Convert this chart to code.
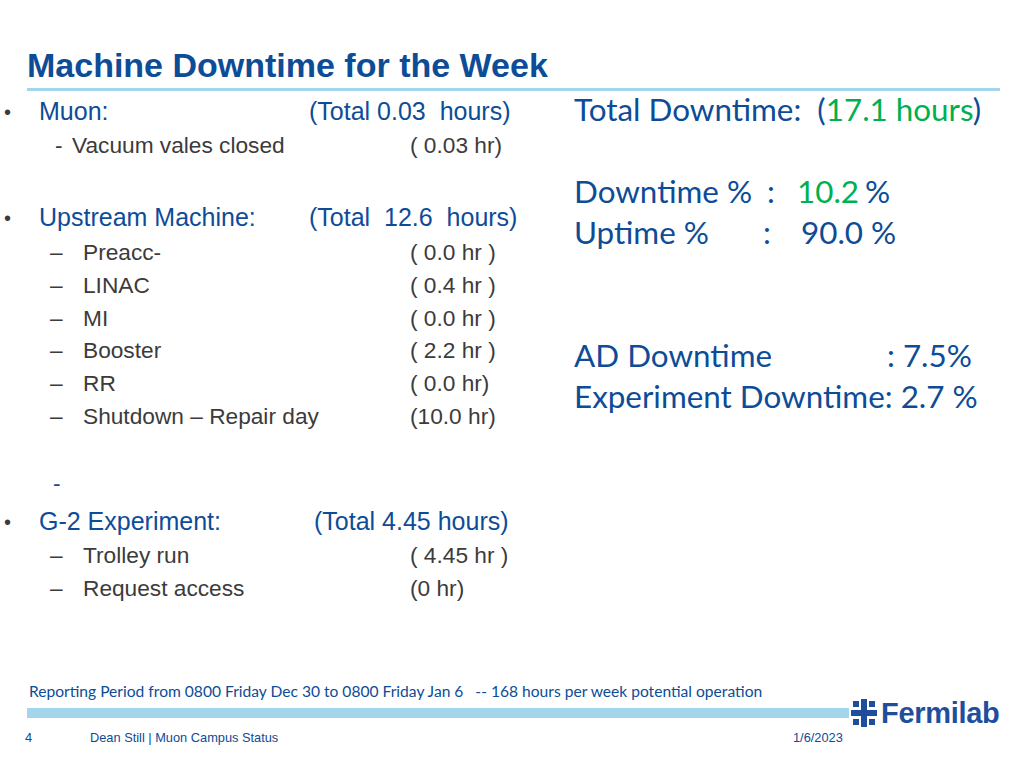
<!DOCTYPE html>
<html>
<head>
<meta charset="utf-8">
<script src="https://cdn.jsdelivr.net/npm/chart.js@4.4.0/dist/chart.umd.min.js"></script>
<style>
  html, body { margin: 0; padding: 0; background: #fff; }
  body { width: 1024px; height: 768px; position: relative; overflow: hidden; }
  .t { position: absolute; white-space: pre; line-height: 1; }
  .arial { font-family: "Liberation Sans", Arial, sans-serif; }
  .lato { font-family: Lato, "Noto Sans", sans-serif; }
  .blue { color: #0d4c97; }
  .gray { color: #3b3b3b; }
  .green { color: #00b050; }
  .rule { position: absolute; background: #a3d6ea; }
</style>
</head>
<body>
<script>
// ---- data ----
const title = "Machine Downtime for the Week";
const groups = ["Muon:", "Upstream Machine:", "G-2 Experiment:"];
const groupTotals = ["(Total 0.03  hours)", "(Total  12.6  hours)", "(Total 4.45 hours)"];
const muonItems = ["Vacuum vales closed"];
const muonHours = ["( 0.03 hr)"];
const upstreamItems = ["Preacc-", "LINAC", "MI", "Booster", "RR", "Shutdown \u2013 Repair day"];
const upstreamHours = ["( 0.0 hr )", "( 0.4 hr )", "( 0.0 hr )", "( 2.2 hr )", "( 0.0 hr)", "(10.0 hr)"];
const g2Items = ["Trolley run", "Request access"];
const g2Hours = ["( 4.45 hr )", "(0 hr)"];
const totalDowntimeHours = "17.1 hours";
const downtimePct = "10.2";
const uptimePct = "90.0 %";
const adDowntime = ": 7.5%";
const experimentDowntime = "2.7 %";
const reportingText = "Reporting Period from 0800 Friday Dec 30 to 0800 Friday Jan 6   -- 168 hours per week potential operation";
const footerPage = "4";
const footerAuthor = "Dean Still | Muon Campus Status";
const footerDate = "1/6/2023";

// ---- layout ----
function put(text, x, yc, size, cls, extra) {
  const d = document.createElement("div");
  d.className = "t " + cls;
  d.textContent = text;
  d.style.left = x + "px";
  d.style.top = (yc - size / 2) + "px";
  d.style.fontSize = size + "px";
  if (extra) Object.assign(d.style, extra);
  document.body.appendChild(d);
  return d;
}
function rule(x, y, w, h) {
  const d = document.createElement("div");
  d.className = "rule";
  Object.assign(d.style, { left: x + "px", top: y + "px", width: w + "px", height: h + "px" });
  document.body.appendChild(d);
}

put(title, 27, 65, 34, "arial blue", { fontWeight: "bold" });
rule(27, 88, 973, 3);

const MAIN = 25, SUB = 22.7;
// Muon
put("\u2022", 4, 112, 20, "arial gray");
put(groups[0], 39, 111, MAIN, "arial blue");
put(groupTotals[0], 309, 111, MAIN, "arial blue");
put("-", 55, 145, SUB, "arial gray");
put(muonItems[0], 72, 145, SUB, "arial gray");
put(muonHours[0], 410, 145, SUB, "arial gray");

// Upstream
put("\u2022", 4, 218, 20, "arial gray");
put(groups[1], 39, 217, MAIN, "arial blue");
put(groupTotals[1], 309, 217, MAIN, "arial blue");
const upY = [252, 285, 318, 350, 383, 416];
upstreamItems.forEach((s, i) => {
  put("\u2013", 50, upY[i], SUB, "arial gray");
  put(s, 83, upY[i], SUB, "arial gray");
  put(upstreamHours[i], 410, upY[i], SUB, "arial gray");
});

put("-", 53, 483, SUB, "arial blue");

// G-2
put("\u2022", 4, 522, 20, "arial gray");
put(groups[2], 39, 521, MAIN, "arial blue");
put(groupTotals[2], 314, 521, MAIN, "arial blue");
const g2Y = [555, 588];
g2Items.forEach((s, i) => {
  put("\u2013", 50, g2Y[i], SUB, "arial gray");
  put(s, 83, g2Y[i], SUB, "arial gray");
  put(g2Hours[i], 410, g2Y[i], SUB, "arial gray");
});

// right column
const R = 31.4;
const td = put("", 574, 110, R, "lato blue");
td.innerHTML = 'Total Downtime:  (<span class="green">' + totalDowntimeHours + '</span>)';
put("Downtime %", 574, 192, R, "lato blue");
put(":", 767, 192, R, "lato blue");
put(downtimePct, 797, 192, R, "lato green");
put("%", 865, 192, R, "lato blue");
put("Uptime %", 574, 233, R, "lato blue");
put(":", 763, 233, R, "lato blue");
put(uptimePct, 801, 233, R, "lato blue");
put("AD Downtime", 574, 356, R, "lato blue");
put(adDowntime, 887, 356, R, "lato blue");
put("Experiment Downtime: " + experimentDowntime, 574, 397, R, "lato blue");

// footer
put(reportingText, 29, 692, 15.6, "lato blue");
rule(27, 708, 822, 10);
put(footerPage, 25, 738, 12.8, "arial blue");
put(footerAuthor, 90, 738, 12.8, "arial blue");
put(footerDate, 793, 738, 12.8, "arial blue");

// Fermilab logo
const logo = document.createElement("div");
logo.style.cssText = "position:absolute;left:851px;top:697px;height:32px;display:flex;align-items:center;";
logo.innerHTML =
  '<svg width="26" height="28" viewBox="0 0 26 28">' +
  '<g fill="#1f4f9c">' +
  '<rect x="10" y="0" width="6" height="28"/>' +
  '<rect x="0" y="11" width="26" height="6"/>' +
  '<rect x="2" y="2" width="6" height="6"/><rect x="18" y="2" width="6" height="6"/>' +
  '<rect x="2" y="20" width="6" height="6"/><rect x="18" y="20" width="6" height="6"/>' +
  '</g></svg>' +
  '<span style="font-family:\'Liberation Sans\',Arial,sans-serif;font-weight:bold;font-size:29px;color:#1f4f9c;margin-left:4px;letter-spacing:-0.3px;">Fermilab</span>';
document.body.appendChild(logo);
</script>
</body>
</html>
